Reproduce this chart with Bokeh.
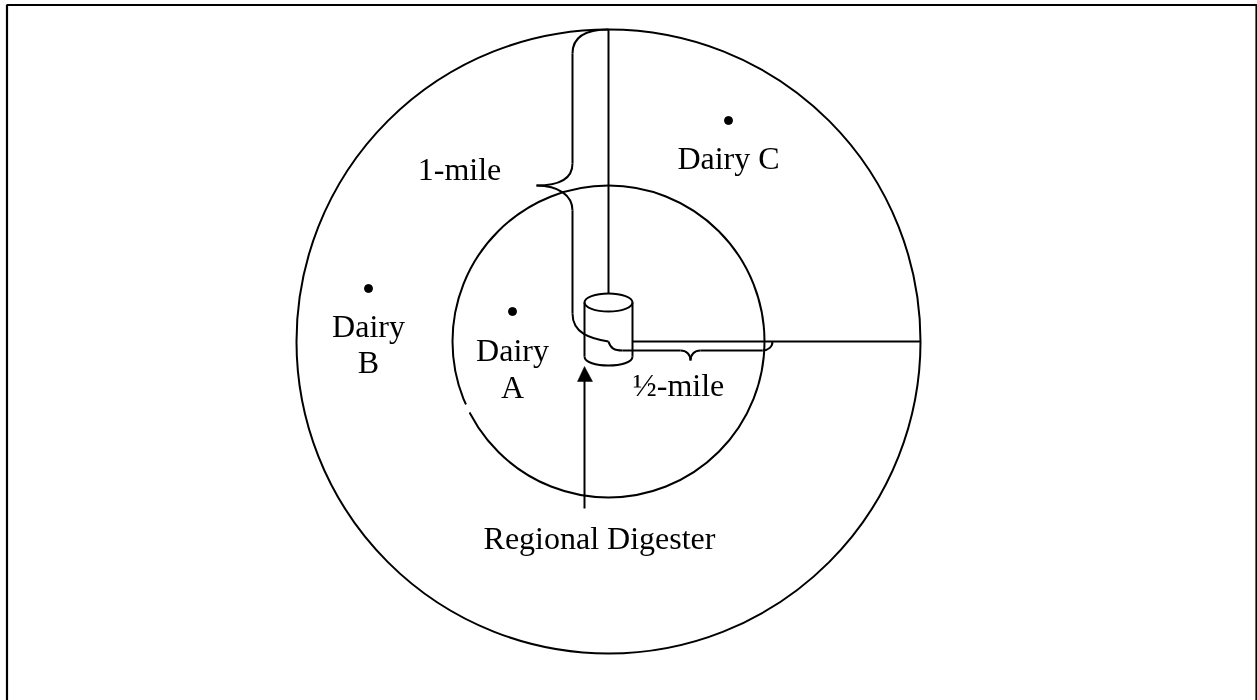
from bokeh.plotting import figure
from bokeh.models import Range1d, InlineStyleSheet
from bokeh.core.properties import value
from bokeh.embed import file_html
from bokeh.resources import INLINE

W, H = 1257, 700
INK = "black"
SERIF = "Liberation Serif"

# rings: centre x, centre y, diameter
ring_x = [608, 608]
ring_y = [341, 341]
ring_d = [624, 312]

# frame polyline (open at the bottom)
frame_x = [6.5, 6.5, 1256, 1256]
frame_y = [700, 4.5, 4.5, 700]

# radii
radius_x0 = [608, 632]
radius_y0 = [29, 341]
radius_x1 = [608, 920]
radius_y1 = [293, 341]

# straight parts of the braces, cylinder sides, arrow shaft
seg_x0 = [572, 572, 622, 700, 584, 632, 584]
seg_y0 = [53, 210, 350, 350, 302, 302, 508]
seg_x1 = [572, 572, 680, 762, 584, 632, 584]
seg_y1 = [163, 313, 350, 350, 356, 356, 378]

# curved parts of the braces and the base of the cylinder
bz_x0 = [608, 572, 536, 572, 608, 680, 700, 762, 584]
bz_y0 = [29, 163, 185, 313, 341, 350, 350, 350, 356]
bz_x1 = [572, 536, 572, 608, 622, 690, 690, 772, 632]
bz_y1 = [53, 185, 210, 341, 350, 360, 360, 341, 356]
bz_cx0 = [582, 572, 558, 572, 610, 686, 694, 768, 584]
bz_cy0 = [29, 178, 185, 333, 348, 350, 350, 350, 368]
bz_cx1 = [572, 560, 572, 590, 614, 690, 690, 772, 632]
bz_cy1 = [38, 185, 195, 338, 350, 354, 354, 346, 368]

# digester top
top_x, top_y, top_w, top_h = [608], [302], [48], [18]

# arrow head
head_x = [584, 577, 592]
head_y = [366, 381, 381]

# dairies
dairy_x = [728, 512, 368]
dairy_y = [120, 311, 288]

# labels (baselines)
label_text = ["Dairy C", "1-mile", "Dairy", "B", "Dairy", "A", "½-mile", "Regional Digester"]
label_x = [728, 459, 368, 368, 512, 512, 678, 599]
label_y = [168, 179, 336, 372, 360, 397, 395, 548]

p = figure(width=W, height=H, output_backend="svg", toolbar_location=None,
           x_range=Range1d(0, W), y_range=Range1d(H, 0), min_border=0,
           outline_line_color=None,
           background_fill_color="white", border_fill_color="white",
           stylesheets=[InlineStyleSheet(css=":host{position:fixed !important;left:0;top:0}")])
p.axis.visible = False
p.grid.visible = False

lw = 2
p.line(frame_x, frame_y, line_color=INK, line_width=2.2)
p.ellipse(ring_x, ring_y, width=ring_d, height=ring_d, fill_color=None, line_color=INK, line_width=lw)
# small break in the inner ring
p.segment([464.5], [404.5], [469], [412], line_color="white", line_width=6)
p.segment(radius_x0, radius_y0, radius_x1, radius_y1, line_color=INK, line_width=lw)
p.segment(seg_x0, seg_y0, seg_x1, seg_y1, line_color=INK, line_width=lw)
p.bezier(bz_x0, bz_y0, bz_x1, bz_y1, bz_cx0, bz_cy0, bz_cx1, bz_cy1, line_color=INK, line_width=lw)
p.ellipse(top_x, top_y, width=top_w, height=top_h, fill_color=None, line_color=INK, line_width=lw)
p.patch(head_x, head_y, fill_color=INK, line_color=INK, line_width=0.5)
p.scatter(dairy_x, dairy_y, size=8, marker="circle", fill_color=INK, line_color=INK)
p.text(label_x, label_y, text=label_text, text_font=value(SERIF), text_font_size="32px",
       text_align="center", text_baseline="alphabetic", text_color=INK, y_offset=-11)

open("out.html", "w").write(file_html(p, INLINE))
